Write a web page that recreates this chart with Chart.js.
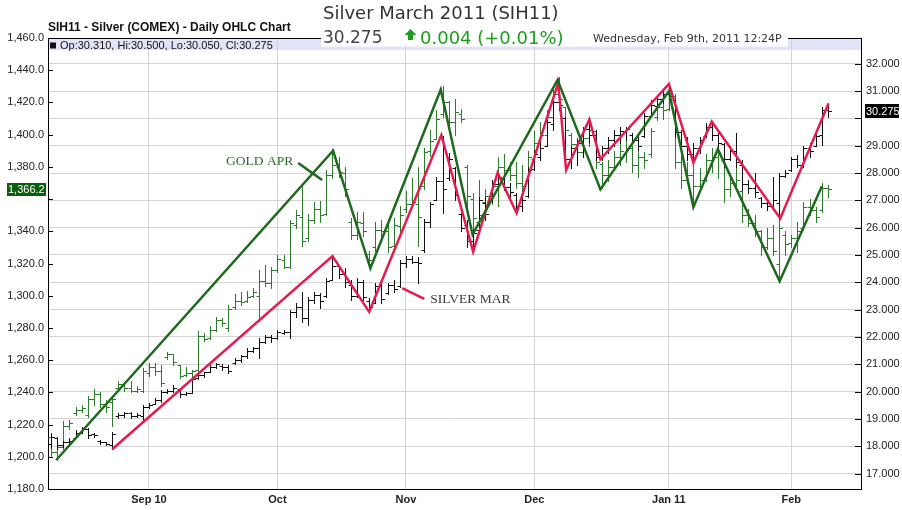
<!DOCTYPE html>
<html>
<head>
<meta charset="utf-8">
<title>Silver March 2011 (SIH11)</title>
<script src="https://cdn.jsdelivr.net/npm/chart.js@4.4.0/dist/chart.umd.min.js"></script>
<style>
  html, body { margin: 0; padding: 0; background: #fff; overflow: hidden; }
  canvas { display: block; }
</style>
</head>
<body>
<canvas id="grafico" width="902" height="510"></canvas>
<script>
// x axis: one step per trading day, first bar = Aug 10 2010
const monthTicks = [16, 37, 58, 79, 101, 121]
const monthLabels = ['Sep 10', 'Oct', 'Nov', 'Dec', 'Jan 11', 'Feb']
const goldTicks = [1180, 1200, 1220, 1240, 1260, 1280, 1300, 1320, 1340, 1360, 1380, 1400, 1420, 1440, 1460]
const silverTicks = [17, 18, 19, 20, 21, 22, 23, 24, 25, 26, 27, 28, 29, 30, 31, 32]

// Gold April (left axis), daily OHLC
const goldOpen = [
  1212,1203,1206,1219,1227,1229,1226,1236,1239,1233,1234,1243,1245,1243,1241,1241,
  1252,1256,1253,1262,1264,1257,1251,1252,1254,1275,1274,1279,1285,1280,1293,1297,
  1297,1300,1300,1309,1308,1316,1322,1318,1344,1349,1336,1347,1354,1351,1375,1380,
  1376,1346,1338,1345,1326,1330,1341,1340,1331,1343,1354,1357,1357,1368,1390,1397,
  1413,1420,1408,1413,1380,1360,1346,1358,1362,1368,1380,1378,1375,1370,1372,1385,
  1395,1400,1411,1425,1417,1400,1394,1389,1398,1402,1382,1375,1380,1386,1388,1392,
  1381,1386,1388,1411,1417,1416,1424,1383,1372,1375,1368,1372,1384,1386,1384,1366,
  1370,1365,1350,1345,1340,1330,1336,1320,1338,1333,1336,1342,1355,1353,1353,1367]
const goldHigh = [
  1215,1208,1222,1223,1231,1232,1238,1242,1240,1235,1237,1247,1246,1247,1244,1255,
  1258,1258,1257,1265,1264,1257,1256,1254,1278,1277,1281,1287,1286,1294,1301,1302,
  1303,1305,1316,1319,1318,1325,1325,1347,1353,1368,1351,1358,1359,1378,1391,1386,
  1380,1348,1352,1352,1328,1346,1347,1346,1348,1356,1365,1373,1380,1392,1403,1415,
  1430,1421,1422,1416,1381,1364,1372,1366,1371,1386,1388,1383,1383,1381,1390,1402,
  1408,1415,1429,1436,1417,1401,1398,1404,1408,1403,1383,1384,1390,1394,1396,1393,
  1390,1389,1404,1421,1423,1429,1425,1390,1383,1381,1379,1388,1392,1394,1385,1375,
  1381,1366,1354,1350,1341,1342,1344,1348,1340,1338,1346,1358,1360,1355,1370,1369]
const goldLow = [
  1200,1198,1205,1217,1226,1228,1225,1232,1231,1228,1219,1241,1241,1240,1240,1240,
  1250,1251,1244,1261,1257,1249,1250,1249,1253,1272,1273,1278,1281,1278,1292,1294,
  1296,1299,1284,1306,1305,1315,1317,1317,1342,1331,1334,1345,1346,1350,1373,1374,
  1362,1335,1335,1337,1317,1328,1335,1327,1330,1338,1352,1355,1331,1366,1387,1397,
  1411,1405,1400,1408,1350,1339,1344,1356,1357,1356,1374,1372,1367,1362,1371,1381,
  1392,1396,1410,1419,1400,1391,1383,1388,1393,1379,1367,1371,1379,1381,1383,1377,
  1374,1379,1386,1409,1410,1415,1379,1367,1370,1356,1366,1371,1377,1373,1358,1362,
  1368,1346,1343,1337,1325,1329,1325,1310,1325,1330,1327,1341,1350,1346,1352,1361]
const goldClose = [
  1203,1206,1219,1221,1229,1230,1236,1239,1233,1231,1236,1245,1243,1241,1242,1253,
  1256,1253,1246,1264,1259,1250,1252,1253,1275,1273,1279,1285,1283,1292,1297,1296,
  1299,1302,1309,1308,1316,1323,1318,1345,1350,1334,1347,1354,1350,1375,1381,1377,
  1366,1338,1346,1340,1322,1341,1340,1330,1344,1350,1357,1358,1349,1389,1396,1410,
  1420,1408,1414,1410,1362,1348,1350,1362,1368,1380,1378,1375,1370,1368,1386,1395,
  1400,1411,1425,1422,1403,1394,1389,1398,1403,1383,1375,1380,1386,1390,1392,1381,
  1386,1384,1402,1417,1415,1424,1383,1372,1375,1368,1372,1384,1386,1388,1366,1370,
  1372,1350,1345,1340,1330,1336,1328,1342,1332,1336,1340,1355,1353,1349,1367,1366.2]

// Silver March (right axis), daily OHLC
const silverOpen = [
  18.10,18.30,18.05,18.15,18.30,18.50,18.65,18.45,18.20,18.15,18.05,19.10,19.15,19.20,19.12,19.10,
  19.45,19.55,19.70,20.00,20.02,20.10,19.90,19.95,20.50,20.60,20.72,20.90,20.95,20.90,21.05,21.15,
  21.30,21.50,21.60,21.80,22.00,21.95,22.15,22.20,22.90,23.10,22.70,23.35,23.55,23.50,24.10,24.60,
  24.30,23.90,23.50,24.00,23.30,23.25,23.85,23.60,23.90,23.85,24.70,24.85,24.75,25.20,26.20,27.00,
  27.70,27.80,28.20,26.50,26.10,25.50,25.90,26.90,27.00,27.60,27.80,27.50,27.20,26.80,27.15,28.15,
  28.60,29.00,29.80,30.60,30.00,28.50,28.90,29.10,29.60,29.40,28.60,28.90,29.20,29.40,29.50,29.40,
  29.20,29.35,30.10,30.45,30.70,30.90,30.67,29.50,29.00,28.70,28.90,29.35,29.70,29.40,29.05,28.50,
  28.80,28.30,27.60,27.45,27.10,26.90,26.80,26.90,27.90,28.10,28.50,28.30,28.90,29.00,29.40,30.31]
const silverHigh = [
  18.45,18.35,18.20,18.30,18.60,18.72,18.66,18.50,18.22,18.17,18.53,19.22,19.27,19.27,19.20,19.50,
  19.57,19.75,20.06,20.08,20.24,20.12,20.00,20.55,20.67,20.73,20.97,21.03,21.00,20.97,21.22,21.34,
  21.58,21.64,21.95,22.07,22.07,22.25,22.25,22.98,23.23,23.66,23.47,23.66,23.60,24.14,24.96,24.63,
  24.51,24.08,24.14,24.08,23.41,23.96,24.02,23.96,24.08,24.80,24.98,24.98,24.94,26.30,26.95,27.87,
  29.35,28.72,28.23,26.53,26.28,25.92,27.14,27.14,27.75,28.01,27.87,27.62,27.26,27.14,28.23,28.84,
  29.09,29.94,30.80,31.30,30.06,28.97,29.21,29.70,29.97,29.57,28.97,29.33,29.57,29.70,29.70,29.45,
  29.33,30.18,30.67,30.80,31.04,31.26,30.67,29.57,29.33,29.09,29.33,29.82,29.88,29.45,29.09,28.97,
  29.45,28.48,27.75,27.99,27.14,27.01,27.87,27.99,28.11,28.60,28.66,28.97,29.09,29.45,30.43,30.50]
const silverLow = [
  17.95,17.90,17.98,18.10,18.30,18.50,18.30,18.35,18.10,18.04,17.89,19.05,19.08,19.02,19.08,18.96,
  19.40,19.55,19.63,19.94,19.98,19.82,19.88,19.94,20.48,20.55,20.72,20.85,20.80,20.67,21.00,21.10,
  21.22,21.45,21.22,21.77,21.83,21.92,22.12,21.95,22.74,22.56,22.44,23.23,23.05,23.47,24.10,24.14,
  23.84,23.35,23.47,23.35,22.92,23.23,23.23,23.58,23.66,23.84,24.57,24.69,23.96,25.10,26.04,27.00,
  26.53,27.75,27.01,25.86,25.30,25.12,25.88,26.28,26.95,27.50,27.38,27.14,26.53,26.60,27.14,28.11,
  28.48,28.97,29.57,30.30,28.11,28.20,28.30,28.60,29.09,28.48,28.48,28.72,28.97,29.09,29.20,29.09,
  28.84,29.33,30.10,30.43,30.55,30.67,29.33,28.84,28.48,28.38,28.72,29.33,29.21,28.84,28.23,28.48,
  28.23,27.38,27.26,27.14,26.77,26.65,26.65,26.34,27.87,28.08,28.23,28.23,28.60,28.97,29.03,30.05]
const silverClose = [
  18.35,18.05,18.15,18.20,18.50,18.65,18.40,18.40,18.15,18.08,18.45,19.15,19.20,19.10,19.15,19.45,
  19.50,19.70,20.00,20.02,20.15,19.90,19.95,20.45,20.60,20.70,20.90,21.00,20.90,20.75,21.15,21.30,
  21.50,21.60,21.80,22.00,21.95,22.20,22.20,22.90,23.10,22.70,23.35,23.55,23.30,24.05,24.60,24.30,
  24.00,23.50,24.00,23.45,23.10,23.85,23.40,23.90,23.75,24.70,24.85,24.75,24.70,26.20,26.85,27.70,
  27.40,28.50,27.20,26.00,25.50,25.80,27.00,26.50,27.60,27.85,27.50,27.30,26.80,27.00,28.10,28.70,
  28.90,29.85,30.60,30.50,28.50,28.90,29.10,29.60,29.40,28.60,28.90,29.20,29.40,29.55,29.60,29.20,
  29.00,30.10,30.50,30.70,30.90,30.80,29.50,29.00,28.70,28.90,29.20,29.70,29.40,29.10,28.50,28.80,
  28.40,27.60,27.45,27.30,26.90,26.80,27.00,27.90,28.00,28.50,28.30,28.90,28.80,29.35,30.30,30.275]

// swing lines drawn over the bars
const goldZigIdx = [0.85, 46.1, 52.2, 63.7, 68.9, 82.8, 89.8, 101.0, 105.0, 109.0, 119.1, 126.0]
const goldZigVal = [1198, 1390, 1317, 1428, 1338, 1434, 1366, 1427, 1355, 1391, 1309, 1368]
const silverZigIdx = [10, 46.0, 52.0, 63.8, 69.0, 73.0, 76.1, 82.9, 84.2, 88.0, 89.8, 101.0, 105.0, 108.0, 119.2, 127.1]
const silverZigVal = [17.89, 24.96, 22.92, 29.39, 25.12, 28.01, 26.53, 31.30, 28.11, 29.96, 28.50, 31.26, 28.38, 29.88, 26.34, 30.55]

// hand-written notes on the chart (in data units)
const notes = [
  { text: 'GOLD APR', axis: 'yG', x: 28.6, y: 1381.2, color: '#2b6e2b', line: '#1d6a1d', from: [40.4, 1382.4], to: [44.3, 1371.8] },
  { text: 'SILVER MAR', axis: 'yS', x: 62.0, y: 23.24, color: '#3a3a3a', line: '#e41b50', from: [57.4, 23.79], to: [61.0, 23.39] }
]

const lastGold = goldClose[goldClose.length - 1]
const lastSilver = silverClose[silverClose.length - 1]

Chart.defaults.font.family = 'Arial, "Liberation Sans", sans-serif'
Chart.defaults.font.size = 11
Chart.defaults.color = '#222'

// barras OHLC
function drawOhlc(c, axis, o, h, l, cl, color) {
  const g = c.ctx
  const x = c.scales.x
  const y = c.scales[axis]
  g.save()
  g.strokeStyle = color
  g.lineWidth = 1
  g.beginPath()
  for (let i = 0; i < o.length; i++) {
    const px = Math.round(x.getPixelForValue(i)) + 0.5
    g.moveTo(px, Math.round(y.getPixelForValue(h[i])))
    g.lineTo(px, Math.round(y.getPixelForValue(l[i])) + 1)
    const yo = Math.round(y.getPixelForValue(o[i])) + 0.5
    g.moveTo(px - 3, yo)
    g.lineTo(px, yo)
    const yc = Math.round(y.getPixelForValue(cl[i])) + 0.5
    g.moveTo(px, yc)
    g.lineTo(px + 3.5, yc)
  }
  g.stroke()
  g.restore()
}

const ohlcPlugin = {
  id: 'ohlc',
  beforeDatasetsDraw(c) {
    drawOhlc(c, 'yG', goldOpen, goldHigh, goldLow, goldClose, '#2e7b2e')
    drawOhlc(c, 'yS', silverOpen, silverHigh, silverLow, silverClose, '#111')
  }
}

const notesPlugin = {
  id: 'notes',
  afterDatasetsDraw(c) {
    const g = c.ctx
    const x = c.scales.x
    g.save()
    notes.forEach((n) => {
      const y = c.scales[n.axis]
      g.font = '13.5px "Liberation Serif", "Times New Roman", serif'
      g.fillStyle = n.color
      g.textBaseline = 'alphabetic'
      g.fillText(n.text, x.getPixelForValue(n.x), y.getPixelForValue(n.y))
      g.strokeStyle = n.line
      g.lineWidth = 2.5
      g.beginPath()
      g.moveTo(x.getPixelForValue(n.from[0]), y.getPixelForValue(n.from[1]))
      g.lineTo(x.getPixelForValue(n.to[0]), y.getPixelForValue(n.to[1]))
      g.stroke()
    })
    g.restore()
  }
}

const headerPlugin = {
  id: 'header',
  beforeDraw(c) {
    const g = c.ctx
    const a = c.chartArea
    g.save()
    g.fillStyle = '#e4e4f8'
    g.fillRect(a.left, a.top, a.right - a.left, 12)
    g.restore()
  },
  afterDraw(c) {
    const g = c.ctx
    const a = c.chartArea
    const yG = c.scales.yG
    const yS = c.scales.yS
    g.save()

    // top edge of the plot box
    g.strokeStyle = '#000'
    g.lineWidth = 1
    g.beginPath()
    g.moveTo(a.left, a.top + 0.5)
    g.lineTo(a.right, a.top + 0.5)
    g.stroke()

    // inward tick marks
    g.beginPath()
    goldTicks.forEach((v) => {
      const py = Math.round(yG.getPixelForValue(v)) + 0.5
      g.moveTo(a.left, py)
      g.lineTo(a.left + 5, py)
    })
    silverTicks.forEach((v) => {
      const py = Math.round(yS.getPixelForValue(v)) + 0.5
      g.moveTo(a.right - 6, py)
      g.lineTo(a.right, py)
    })
    g.stroke()

    // white title block over the top of the box
    g.fillStyle = '#fff'
    g.fillRect(321, 0, 467, 46.5)

    g.textBaseline = 'alphabetic'
    g.fillStyle = '#111'
    g.font = 'bold 12px Arial, "Liberation Sans", sans-serif'
    g.fillText('SIH11 - Silver (COMEX) - Daily OHLC Chart', 48, 31)

    g.fillStyle = '#333'
    g.font = '18px "DejaVu Sans", Verdana, sans-serif'
    g.fillText('Silver March 2011 (SIH11)', 323, 19)

    g.fillStyle = '#444'
    g.font = '17px "DejaVu Sans", Verdana, sans-serif'
    g.fillText('30.275', 323, 43)

    // green up arrow + change
    g.fillStyle = '#1b9e1b'
    g.beginPath()
    g.moveTo(410.5, 29)
    g.lineTo(416.5, 35)
    g.lineTo(413, 35)
    g.lineTo(413, 40)
    g.lineTo(408, 40)
    g.lineTo(408, 35)
    g.lineTo(404.5, 35)
    g.closePath()
    g.fill()
    g.font = '18px "DejaVu Sans", Verdana, sans-serif'
    g.fillText('0.004 (+0.01%)', 420, 44)

    g.fillStyle = '#333'
    g.font = '11px "DejaVu Sans", Verdana, sans-serif'
    g.fillText('Wednesday, Feb 9th, 2011 12:24P', 593, 42)

    // OHLC legend in the band
    g.fillStyle = '#111'
    g.fillRect(50, 42.5, 6, 6)
    g.font = '11px Arial, "Liberation Sans", sans-serif'
    g.fillText('Op:30.310, Hi:30.500, Lo:30.050, Cl:30.275', 60, 48.5)

    // last price boxes
    const ys = Math.round(yS.getPixelForValue(lastSilver))
    g.fillStyle = '#000'
    g.fillRect(865, ys - 7, 34, 14)
    g.fillStyle = '#fff'
    g.textBaseline = 'middle'
    g.fillText(lastSilver.toFixed(3), 866, ys + 0.5)

    const yg = Math.round(yG.getPixelForValue(lastGold))
    g.fillStyle = '#0b5e0b'
    g.fillRect(7, yg - 6, 39, 13)
    g.fillStyle = '#fff'
    g.fillText(lastGold.toLocaleString('en-US', { minimumFractionDigits: 1, maximumFractionDigits: 1 }), 8, yg + 0.5)

    g.restore()
  }
}

const ctx = document.getElementById('grafico').getContext('2d')
const grafico = new Chart(ctx, {
  type: 'line',
  data: {
    datasets: [
      {
        label: 'Gold Apr',
        data: goldZigIdx.map((v, k) => ({ x: v, y: goldZigVal[k] })),
        yAxisID: 'yG',
        borderColor: '#1d6a1d',
        borderWidth: 2.5,
        pointRadius: 0,
        tension: 0
      },
      {
        label: 'Silver Mar',
        data: silverZigIdx.map((v, k) => ({ x: v, y: silverZigVal[k] })),
        yAxisID: 'yS',
        borderColor: '#e41b50',
        borderWidth: 2.5,
        pointRadius: 0,
        tension: 0
      }
    ]
  },
  options: {
    responsive: false,
    animation: false,
    layout: { padding: { top: 38, left: 0, right: 0, bottom: 0 } },
    plugins: {
      legend: { display: false },
      tooltip: { enabled: false }
    },
    scales: {
      x: {
        type: 'linear',
        min: -0.5,
        max: 132.4,
        afterBuildTicks: (s) => { s.ticks = monthTicks.map((v) => ({ value: v })) },
        afterFit: (s) => { s.height = 21 },
        ticks: {
          autoSkip: false,
          maxRotation: 0,
          padding: 4,
          font: { weight: 'bold', size: 11 },
          color: '#222',
          callback: (v) => monthLabels[monthTicks.indexOf(v)]
        },
        grid: { color: '#d4d4d4', drawTicks: false },
        border: { color: '#000' }
      },
      yG: {
        position: 'left',
        min: 1180,
        max: 1460,
        afterBuildTicks: (s) => { s.ticks = goldTicks.map((v) => ({ value: v })) },
        afterFit: (s) => { s.width = 48 },
        ticks: {
          padding: 4,
          color: '#222',
          callback: (v) => Math.abs(v - lastGold) < 12 ? '' :
            v.toLocaleString('en-US', { minimumFractionDigits: 1, maximumFractionDigits: 1 })
        },
        grid: { drawOnChartArea: false, drawTicks: false },
        border: { color: '#000' }
      },
      yS: {
        position: 'right',
        min: 16.437,
        max: 32.94,
        afterBuildTicks: (s) => { s.ticks = silverTicks.map((v) => ({ value: v })) },
        afterFit: (s) => { s.width = 41 },
        ticks: {
          padding: 5,
          color: '#222',
          callback: (v) => Math.abs(v - lastSilver) < 0.5 ? '' : v.toFixed(3)
        },
        grid: { color: '#d4d4d4', drawTicks: false },
        border: { color: '#000' }
      }
    }
  },
  plugins: [headerPlugin, ohlcPlugin, notesPlugin]
})
</script>
</body>
</html>
